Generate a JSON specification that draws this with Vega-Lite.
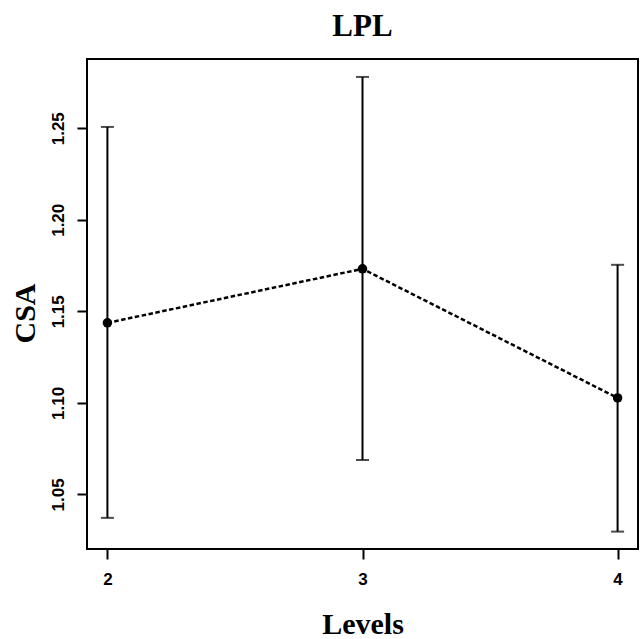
{
  "$schema": "https://vega.github.io/schema/vega-lite/v6.json",
  "width": 551,
  "height": 490,
  "autosize": {"type": "none"},
  "padding": {"left": 87, "top": 59, "right": 4, "bottom": 90},
  "background": "white",
  "title": {
    "text": "LPL",
    "font": "Liberation Serif",
    "fontSize": 31,
    "fontWeight": "bold",
    "color": "black",
    "anchor": "middle",
    "frame": "group",
    "baseline": "alphabetic",
    "offset": -8
  },
  "config": {
    "view": {"stroke": "black", "strokeWidth": 2},
    "axis": {
      "grid": false,
      "domain": false,
      "tickColor": "black",
      "tickWidth": 2,
      "tickSize": 10,
      "labelFont": "Liberation Sans",
      "labelFontWeight": "bold",
      "labelFontSize": 17,
      "labelColor": "black",
      "titleFont": "Liberation Serif",
      "titleFontWeight": "bold",
      "titleFontSize": 30,
      "titleColor": "black"
    }
  },
  "data": {
    "values": [
      {"level": 2, "mean": 1.1437, "lo": 1.0372, "hi": 1.2507},
      {"level": 3, "mean": 1.1732, "lo": 1.0688, "hi": 1.2780},
      {"level": 4, "mean": 1.1027, "lo": 1.0297, "hi": 1.1754}
    ]
  },
  "encoding": {
    "x": {
      "field": "level",
      "type": "quantitative",
      "scale": {"domain": [1.92, 4.08], "nice": false, "zero": false},
      "axis": {
        "values": [2, 3, 4],
        "format": "d",
        "title": "Levels",
        "labelFont": "Liberation Sans",
        "labelFontWeight": "bold",
        "labelFontSize": 17,
        "labelBaseline": "top",
        "labelPadding": 12,
        "titleFont": "Liberation Serif",
        "titleFontWeight": "bold",
        "titleFontSize": 30,
        "titleY": 84,
        "titleBaseline": "alphabetic"
      }
    }
  },
  "layer": [
    {
      "mark": {"type": "rule", "color": "black", "strokeWidth": 2},
      "encoding": {
        "y": {
          "field": "lo",
          "type": "quantitative",
          "scale": {"domain": [1.0202, 1.2878], "nice": false, "zero": false},
          "axis": {
            "values": [1.05, 1.1, 1.15, 1.2, 1.25],
            "format": ".2f",
            "title": "CSA",
            "labelFont": "Liberation Sans",
            "labelFontWeight": "bold",
            "labelFontSize": 17,
            "labelAngle": 270,
            "labelAlign": "center",
            "labelBaseline": "bottom",
            "labelPadding": 10,
            "titleFont": "Liberation Serif",
            "titleFontWeight": "bold",
            "titleFontSize": 30,
            "titleAngle": 270,
            "titleX": -62,
            "titleY": 254,
            "titleAlign": "center",
            "titleBaseline": "middle"
          }
        },
        "y2": {"field": "hi"}
      }
    },
    {
      "mark": {"type": "tick", "orient": "horizontal", "color": "black", "size": 13, "thickness": 2},
      "encoding": {"y": {"field": "hi", "type": "quantitative"}}
    },
    {
      "mark": {"type": "tick", "orient": "horizontal", "color": "black", "size": 13, "thickness": 2},
      "encoding": {"y": {"field": "lo", "type": "quantitative"}}
    },
    {
      "mark": {"type": "line", "color": "black", "strokeWidth": 2.5, "strokeDash": [4.5, 2.5]},
      "encoding": {"y": {"field": "mean", "type": "quantitative"}}
    },
    {
      "mark": {"type": "point", "filled": true, "color": "black", "opacity": 1, "size": 90},
      "encoding": {"y": {"field": "mean", "type": "quantitative"}}
    }
  ]
}
